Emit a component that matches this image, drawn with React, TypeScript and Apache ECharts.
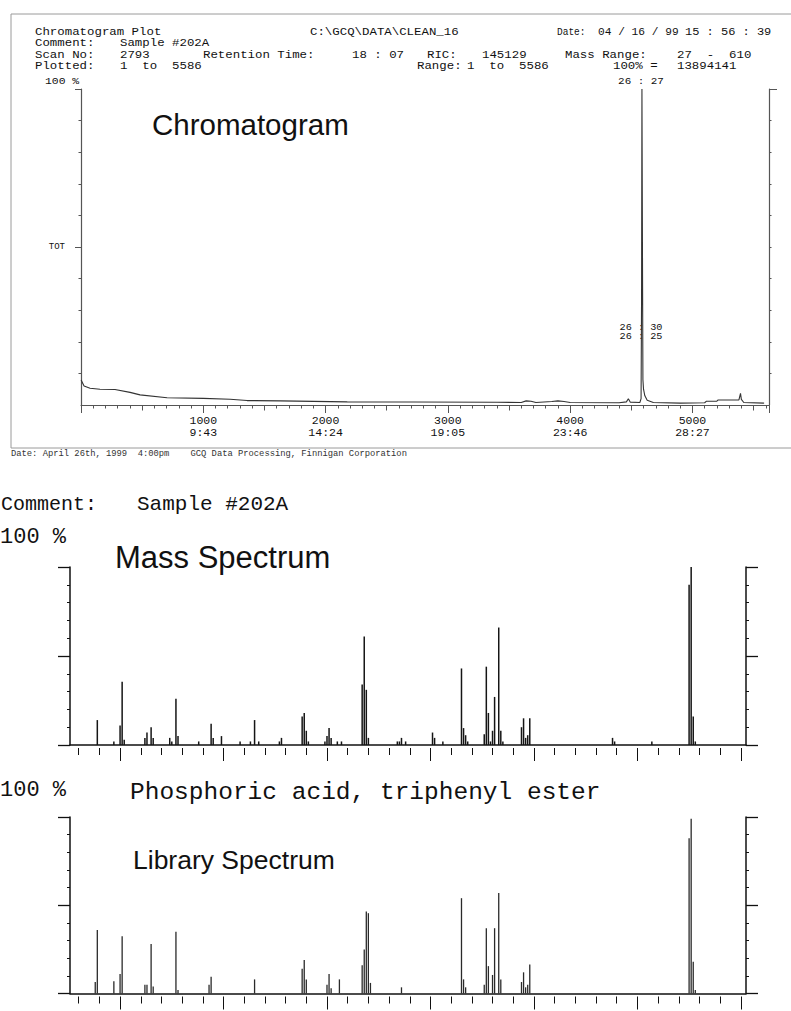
import React, { useEffect, useRef } from 'react';
import * as echarts from 'echarts';

// ---------- Chromatogram (scan number vs % of max TIC) ----------
const chromScan = [1, 25, 74, 155, 278, 401, 483, 704, 1000, 1219, 1358, 1628, 2177, 2717, 3404, 3600, 3640, 3680, 3720, 3850, 3900, 3950, 4000, 4400, 4460, 4476, 4492, 4570, 4580, 4584, 4587, 4590, 4592, 4595, 4600, 4610, 4630, 4680, 4900, 5100, 5115, 5200, 5210, 5380, 5393, 5400, 5420, 5586];
const chromPct = [7.9, 6.0, 5.3, 5.0, 4.9, 4.0, 3.2, 2.3, 2.1, 1.8, 1.4, 1.3, 1.0, 0.95, 0.85, 0.8, 1.3, 1.2, 0.8, 1.1, 1.3, 1.1, 0.8, 0.7, 1.0, 2.0, 0.9, 0.8, 2.0, 35, 100, 100, 40, 8, 5, 3, 1.5, 0.8, 0.6, 0.7, 1.2, 1.2, 1.6, 1.6, 3.7, 1.8, 0.8, 0.6];
const scanMin = 0;
const scanMax = 5626;
const scanLabelValues = [1000, 2000, 3000, 4000, 5000];
const scanTimeLabels = ['9:43', '14:24', '19:05', '23:46', '28:27'];

// ---------- Mass spectrum (m/z vs relative abundance %) ----------
const msMz = [39, 47, 50, 51, 52, 62, 63, 65, 66, 74, 75, 77, 78, 88, 94, 95, 99, 108, 113, 115, 117, 127, 128, 138, 139, 140, 141, 149, 150, 151, 152, 155, 157, 167, 168, 169, 170, 184, 185, 186, 188, 201, 202, 206, 215, 216, 217, 218, 226, 227, 228, 229, 230, 231, 233, 234, 235, 244, 245, 246, 247, 248, 288, 289, 307, 325, 326, 327, 328];
const msPct = [14, 2, 11, 35.5, 3, 4, 7, 10, 4, 4, 2, 26, 5, 2, 12, 4, 5, 2, 2, 14, 2, 2, 4, 16, 18, 8, 2, 2, 5, 9.5, 4, 2, 2, 34, 61, 31, 4, 2, 2, 4, 2, 7, 4, 2, 43, 9.5, 5.5, 2, 6, 44, 18, 2, 8, 27, 66, 8, 2, 10, 15, 4, 5.5, 15, 4, 2, 2, 90, 100, 16, 2];

// ---------- Library spectrum ----------
const libMz = [38, 39, 47, 50, 51, 62, 63, 65, 66, 77, 78, 93, 94, 115, 138, 139, 140, 150, 151, 152, 156, 167, 168, 169, 170, 171, 186, 215, 216, 217, 226, 227, 228, 230, 231, 233, 234, 244, 245, 246, 247, 248, 325, 326, 327, 328];
const libPct = [6.5, 36, 7, 11, 32.5, 5, 5, 28, 4, 35, 2, 5, 9.5, 8, 14, 19, 8, 5, 11, 3, 8, 16, 25, 46.5, 45.5, 6, 3.5, 54, 8, 3.5, 5, 37, 15.5, 10.5, 37, 57, 8, 6.5, 12, 3.5, 5, 16.5, 88, 99, 18, 2];

const mzMin = 25.8;
const mzMax = 352.5;
const mzMajorTicks = [50, 100, 150, 200, 250, 300, 350];

const pctTicks = [0, 10, 20, 30, 40, 50, 60, 70, 80, 90, 100];

function steps(a: number, b: number, s: number): number[] {
  const r: number[] = [];
  for (let v = a; v <= b + 1e-9; v += s) r.push(v);
  return r;
}

const mono = "'Liberation Mono', 'DejaVu Sans Mono', monospace";
const sans = "'Liberation Sans', Arial, sans-serif";

function txt(text: string, x: number, y: number, size: number, family = mono, align = 'left', extra: any = {}, sx = 1) {
  return {
    type: 'text', x, y, scaleX: sx, silent: true,
    style: { text, fontSize: size, fontFamily: family, fill: '#111', align, verticalAlign: 'middle', ...extra },
  };
}
// printer-style header text: small, horizontally stretched monospace
const hdr = (text: string, x: number, y: number, sx = 1.24) => txt(text, x, y, 10, mono, 'left', {}, sx);

export default function App() {
  const ref = useRef<HTMLDivElement>(null);

  useEffect(() => {
    if (!ref.current) return;
    const chart = echarts.init(ref.current, undefined, { renderer: 'svg' });

    const mzMinor = steps(30, 350, 10).filter((v) => v % 50 !== 0);

    const chromAxisColor = '#555';
    const specAxisColor = '#111';

    const hidden = { show: false };

    const xBase = (grid: number, min: number, max: number, extra: any) => ({
      type: 'value', gridIndex: grid, min, max, position: 'bottom',
      splitLine: hidden, axisLabel: { show: false }, axisTick: { show: false },
      axisLine: { show: false, onZero: false }, ...extra,
    });
    const yBase = (grid: number, pos: string, extra: any) => ({
      type: 'value', gridIndex: grid, min: 0, max: 100, position: pos,
      splitLine: hidden, axisLabel: { show: false }, axisTick: { show: false },
      axisLine: { show: false, onZero: false }, ...extra,
    });

    const specAxes = (grid: number) => {
      const xs = [
        xBase(grid, mzMin, mzMax, { axisLine: { show: true, onZero: false, lineStyle: { color: specAxisColor, width: 1.5 } } }),
        xBase(grid, mzMin, mzMax, { offset: 3, axisTick: { show: true, customValues: mzMinor, length: 7, lineStyle: { color: specAxisColor, width: 1 } } }),
        xBase(grid, mzMin, mzMax, { offset: 3, axisTick: { show: true, customValues: mzMajorTicks, length: 13, lineStyle: { color: specAxisColor, width: 1 } } }),
      ];
      const ys = [
        yBase(grid, 'left', { interval: 10, axisLine: { show: true, onZero: false, lineStyle: { color: specAxisColor, width: 1.5 } }, axisTick: { show: true, length: 3, customValues: pctTicks, lineStyle: { color: specAxisColor } } }),
        yBase(grid, 'left', { axisTick: { show: true, length: 12, customValues: [0, 50, 100], lineStyle: { color: specAxisColor, width: 1.3 } } }),
        yBase(grid, 'right', { interval: 10, axisLine: { show: true, onZero: false, lineStyle: { color: specAxisColor, width: 1.5 } }, axisTick: { show: true, length: 3, customValues: pctTicks, lineStyle: { color: specAxisColor } } }),
        yBase(grid, 'right', { axisTick: { show: true, length: 12, customValues: [0, 50, 100], lineStyle: { color: specAxisColor, width: 1.3 } } }),
      ];
      return { xs, ys };
    };

    const ms = specAxes(1);
    const lib = specAxes(2);

    const xAxis: any[] = [
      xBase(0, scanMin, scanMax, {
        interval: 100, offset: 0.5,
        axisLine: { show: true, onZero: false, lineStyle: { color: chromAxisColor, width: 1.2 } },
        axisTick: { show: true, length: 3, lineStyle: { color: chromAxisColor } },
      }),
      xBase(0, scanMin, scanMax, { interval: 500, offset: 0.5, axisTick: { show: true, length: 5, lineStyle: { color: chromAxisColor } } }),
      xBase(0, scanMin, scanMax, {
        interval: 1000, offset: 0.5,
        axisTick: { show: true, length: 7.5, lineStyle: { color: chromAxisColor } },
        axisLabel: {
          show: true, margin: 8.5, fontFamily: mono, fontSize: 11.5, lineHeight: 12, color: '#111',
          formatter: (v: number) => {
            const i = scanLabelValues.indexOf(v);
            return i >= 0 ? `${v}\n${scanTimeLabels[i]}` : '';
          },
        },
      }),
      ...ms.xs,
      ...lib.xs,
    ];

    const yAxis: any[] = [
      yBase(0, 'left', { interval: 10, axisLine: { show: true, onZero: false, lineStyle: { color: chromAxisColor, width: 1.2 } }, axisTick: { show: true, length: 2.5, customValues: pctTicks.slice(1, 10), lineStyle: { color: chromAxisColor } } }),
      yBase(0, 'left', {
        axisTick: { show: true, length: 6, customValues: [50, 100], lineStyle: { color: chromAxisColor } },
        axisLabel: { show: true, customValues: [50], margin: 16, fontFamily: mono, fontSize: 9, color: '#111', formatter: (v: number) => (v === 50 ? 'TOT' : '') },
      }),
      yBase(0, 'right', { interval: 10, axisLine: { show: true, onZero: false, lineStyle: { color: chromAxisColor, width: 1.2 } }, axisTick: { show: true, length: 2.5, customValues: pctTicks.slice(1, 10), lineStyle: { color: chromAxisColor } } }),
      yBase(0, 'right', { axisTick: { show: true, length: 8, customValues: [100], lineStyle: { color: chromAxisColor } } }),
      ...ms.ys,
      ...lib.ys,
    ];

    const graphic: any[] = [
      { type: 'rect', silent: true, shape: { x: 11, y: 14, width: 800, height: 434 }, style: { fill: 'none', stroke: '#9a9a9a', lineWidth: 1 } },
      hdr('Chromatogram Plot', 35, 32.5),
      hdr('C:\\GCQ\\DATA\\CLEAN_16', 310, 32.5),
      hdr('Date:', 557, 32.5, 0.95),
      hdr('04 / 16 / 99', 598, 32.5, 1.12),
      hdr('15 : 56 : 39', 685, 32.5, 1.2),
      hdr('Comment:', 35, 43.8),
      hdr('Sample #202A', 120, 43.8),
      hdr('Scan No:', 35, 55.1),
      hdr('2793', 120, 55.1),
      hdr('Retention Time:', 203, 55.1),
      hdr('18 : 07', 352, 55.1),
      hdr('RIC:', 427, 55.1),
      hdr('145129', 482, 55.1),
      hdr('Mass Range:', 565, 55.1),
      hdr('27  -  610', 677, 55.1),
      hdr('Plotted:', 35, 66.4),
      hdr('1  to  5586', 120, 66.4),
      hdr('Range:', 417, 66.4),
      hdr('1  to  5586', 467, 66.4),
      hdr('100% =', 613, 66.4),
      hdr('13894141', 677, 66.4),
      txt('100 %', 45, 80.8, 9.5, mono, 'left', {}, 1.2),
      txt('26 : 27', 641, 81, 9.5, mono, 'center', {}, 1.15),
      txt('26 : 30', 641, 327.5, 8.5, mono, 'center', {}, 1.2),
      txt('26 : 25', 641, 337, 8.5, mono, 'center', {}, 1.2),
      txt('Chromatogram', 152, 124, 29.5, sans),
      txt('Date: April 26th, 1999  4:00pm    GCQ Data Processing, Finnigan Corporation', 11, 453.5, 8.8, mono, 'left', { fill: '#333' }),
      txt('Comment:', 1, 504, 20),
      txt('Sample #202A', 137, 504, 21),
      txt('100 %', 0, 537.5, 22),
      txt('Mass Spectrum', 115, 557.5, 31, sans),
      txt('100 %', 0, 790, 22),
      txt('Phosphoric acid, triphenyl ester', 130, 792.5, 24.5),
      txt('Library Spectrum', 133, 860, 26.5, sans),
    ];

    const option: any = {
      animation: false,
      backgroundColor: '#ffffff',
      grid: [
        { left: 81, top: 89, width: 688, height: 316 },
        { left: 70, top: 567, width: 676, height: 178 },
        { left: 70, top: 817, width: 676, height: 176.5 },
      ],
      xAxis,
      yAxis,
      graphic,
      series: [
        {
          type: 'line', xAxisIndex: 0, yAxisIndex: 0, symbol: 'none', silent: true,
          lineStyle: { color: '#333', width: 1.1 },
          data: chromScan.map((s, i) => [s, chromPct[i]]),
        },
        {
          type: 'bar', xAxisIndex: 3, yAxisIndex: 4, barWidth: 1.5, silent: true,
          itemStyle: { color: '#151515' },
          data: msMz.map((m, i) => [m, msPct[i]]),
        },
        {
          type: 'bar', xAxisIndex: 6, yAxisIndex: 8, barWidth: 1.3, silent: true,
          itemStyle: { color: '#2a2a2a' },
          data: libMz.map((m, i) => [m, libPct[i]]),
        },
      ],
    };

    chart.setOption(option);
    return () => chart.dispose();
  }, []);

  return (
    <div
      ref={ref}
      style={{ position: 'absolute', left: 0, top: 0, width: 791, height: 1011, background: '#fff' }}
    />
  );
}
